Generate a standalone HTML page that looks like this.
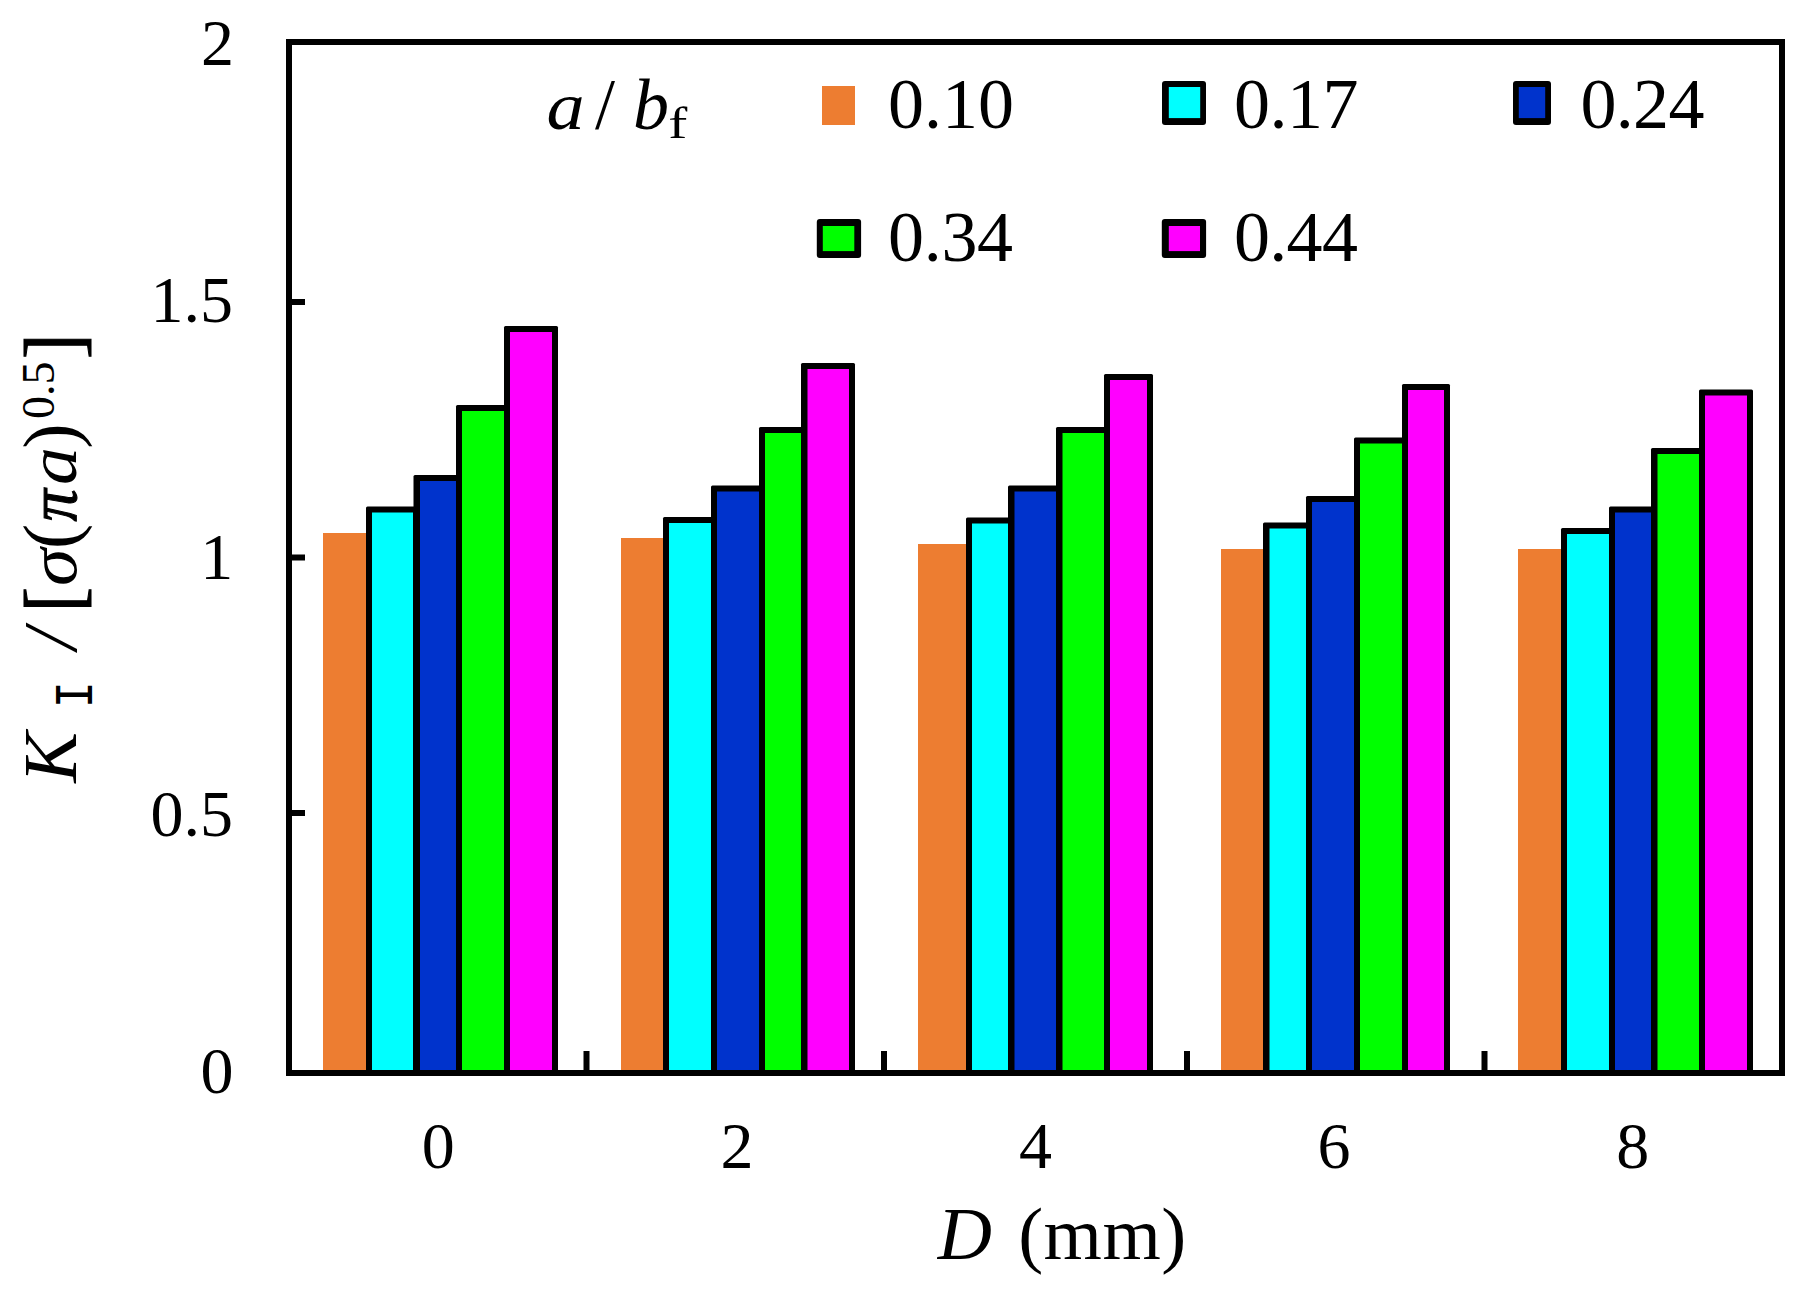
<!DOCTYPE html>
<html lang="en"><head><meta charset="utf-8"><title>K_I / [σ(πa)^0.5] versus D (mm)</title>
<style>
html,body{margin:0;padding:0;background:#fff;}
body{width:1811px;height:1302px;overflow:hidden;}
svg{display:block;}
svg text{font-family:"Liberation Serif","Times New Roman",Times,serif;fill:#000;}
svg text.rn{font-family:"DejaVu Sans Mono","Liberation Mono",monospace;}
</style></head><body>
<svg width="1811" height="1302" viewBox="0 0 1811 1302">
<rect width="1811" height="1302" fill="#fff"/>
<g id="bars" shape-rendering="auto">
<rect x="323" y="533" width="44" height="539" fill="#ED7D31"/>
<rect x="366" y="506.5" width="54" height="565.5" rx="1.5" ry="1.5" fill="#000"/>
<rect x="372" y="512.5" width="41" height="559.5" fill="#00FFFF"/>
<rect x="413.5" y="475" width="48.5" height="597" rx="1.5" ry="1.5" fill="#000"/>
<rect x="420" y="481" width="36" height="591" fill="#0033CC"/>
<rect x="456" y="405" width="54" height="667" rx="1.5" ry="1.5" fill="#000"/>
<rect x="462" y="411" width="42" height="661" fill="#00FF00"/>
<rect x="504" y="326" width="54" height="746" rx="1.5" ry="1.5" fill="#000"/>
<rect x="510" y="332" width="42" height="740" fill="#FF00FF"/>
<rect x="621" y="538" width="43" height="534" fill="#ED7D31"/>
<rect x="663" y="517" width="54" height="555" rx="1.5" ry="1.5" fill="#000"/>
<rect x="669" y="523" width="42" height="549" fill="#00FFFF"/>
<rect x="711" y="485.5" width="54" height="586.5" rx="1.5" ry="1.5" fill="#000"/>
<rect x="717" y="491.5" width="42" height="580.5" fill="#0033CC"/>
<rect x="759" y="427" width="48.5" height="645" rx="1.5" ry="1.5" fill="#000"/>
<rect x="765" y="433" width="36" height="639" fill="#00FF00"/>
<rect x="801" y="363" width="54" height="709" rx="1.5" ry="1.5" fill="#000"/>
<rect x="807.5" y="369" width="41.5" height="703" fill="#FF00FF"/>
<rect x="918" y="544" width="49" height="528" fill="#ED7D31"/>
<rect x="966" y="517.5" width="48.5" height="554.5" rx="1.5" ry="1.5" fill="#000"/>
<rect x="972" y="523.5" width="36" height="548.5" fill="#00FFFF"/>
<rect x="1008" y="485.5" width="54.5" height="586.5" rx="1.5" ry="1.5" fill="#000"/>
<rect x="1014.5" y="491.5" width="41.5" height="580.5" fill="#0033CC"/>
<rect x="1056" y="427" width="54" height="645" rx="1.5" ry="1.5" fill="#000"/>
<rect x="1062.5" y="433" width="41.5" height="639" fill="#00FF00"/>
<rect x="1104" y="374" width="49" height="698" rx="1.5" ry="1.5" fill="#000"/>
<rect x="1110" y="380" width="37" height="692" fill="#FF00FF"/>
<rect x="1221" y="549" width="43" height="523" fill="#ED7D31"/>
<rect x="1263" y="522.5" width="49" height="549.5" rx="1.5" ry="1.5" fill="#000"/>
<rect x="1269.5" y="528.5" width="36.5" height="543.5" fill="#00FFFF"/>
<rect x="1306" y="496" width="54" height="576" rx="1.5" ry="1.5" fill="#000"/>
<rect x="1312" y="502" width="42" height="570" fill="#0033CC"/>
<rect x="1354" y="437.5" width="54" height="634.5" rx="1.5" ry="1.5" fill="#000"/>
<rect x="1360" y="443.5" width="42" height="628.5" fill="#00FF00"/>
<rect x="1402" y="384" width="48" height="688" rx="1.5" ry="1.5" fill="#000"/>
<rect x="1408" y="390" width="36" height="682" fill="#FF00FF"/>
<rect x="1518" y="549" width="44" height="523" fill="#ED7D31"/>
<rect x="1561" y="528" width="54" height="544" rx="1.5" ry="1.5" fill="#000"/>
<rect x="1567" y="534" width="42" height="538" fill="#00FFFF"/>
<rect x="1609" y="506.5" width="48.5" height="565.5" rx="1.5" ry="1.5" fill="#000"/>
<rect x="1615" y="512.5" width="36" height="559.5" fill="#0033CC"/>
<rect x="1651" y="448" width="54" height="624" rx="1.5" ry="1.5" fill="#000"/>
<rect x="1657.5" y="454" width="41.5" height="618" fill="#00FF00"/>
<rect x="1699" y="389.5" width="54" height="682.5" rx="1.5" ry="1.5" fill="#000"/>
<rect x="1705" y="395.5" width="42" height="676.5" fill="#FF00FF"/>
</g>
<rect x="289" y="42" width="1493" height="1031" fill="none" stroke="#000" stroke-width="6"/>
<rect x="291" y="299" width="14" height="6" fill="#000"/>
<rect x="291" y="554.5" width="14" height="6" fill="#000"/>
<rect x="291" y="810" width="14" height="6" fill="#000"/>
<rect x="583.5" y="1051" width="6" height="20" fill="#000"/>
<rect x="881" y="1051" width="6" height="20" fill="#000"/>
<rect x="1184" y="1051" width="6" height="20" fill="#000"/>
<rect x="1481.5" y="1051" width="6" height="20" fill="#000"/>
<g id="yticks">
<text x="234" y="65" font-size="66" text-anchor="end">2</text>
<text x="233" y="322" font-size="66" text-anchor="end">1.5</text>
<text x="233.3" y="579" font-size="66" text-anchor="end">1</text>
<text x="233" y="836" font-size="66" text-anchor="end">0.5</text>
<text x="233.5" y="1093" font-size="66" text-anchor="end">0</text>
</g>
<g id="xticks">
<text x="438.3" y="1167.7" font-size="66" text-anchor="middle">0</text>
<text x="736.9" y="1167.7" font-size="66" text-anchor="middle">2</text>
<text x="1035.5" y="1167.7" font-size="66" text-anchor="middle">4</text>
<text x="1334.1" y="1167.7" font-size="66" text-anchor="middle">6</text>
<text x="1632.7" y="1167.7" font-size="66" text-anchor="middle">8</text>
</g>
<g id="xtitle">
<text x="937.8" y="1259" font-size="75" text-anchor="start" font-style="italic">D</text>
<text x="1018.2" y="1259" font-size="75" text-anchor="start" letter-spacing="0.45">(mm)</text>
</g>
<g id="legend">
<text transform="translate(546.4 128.8) scale(1.06 0.94)" font-size="72" font-style="italic">a</text>
<text x="595" y="127.8" font-size="72" text-anchor="start">/</text>
<text x="633" y="128.8" font-size="72" text-anchor="start" font-style="italic">b</text>
<text transform="translate(668.3 138) scale(1.3 1)" font-size="44">f</text>
<rect x="822" y="86" width="33" height="39" fill="#ED7D31"/>
<rect x="1162" y="81" width="44" height="44" rx="3" ry="3" fill="#000"/>
<rect x="1168.8" y="87" width="31.4" height="31.1" fill="#00FFFF"/>
<rect x="1513" y="81" width="38" height="44" rx="3" ry="3" fill="#000"/>
<rect x="1518.8" y="87" width="26.4" height="31.1" fill="#0033CC"/>
<rect x="816.8" y="219" width="44.3" height="38.9" rx="3" ry="3" fill="#000"/>
<rect x="822.8" y="226" width="31.5" height="25.1" fill="#00FF00"/>
<rect x="1161.8" y="219" width="44.3" height="38.9" rx="3" ry="3" fill="#000"/>
<rect x="1168.8" y="226" width="31.2" height="25.1" fill="#FF00FF"/>
<text x="888" y="127.5" font-size="72" text-anchor="start">0.10</text>
<text x="1234" y="127.5" font-size="72" text-anchor="start" letter-spacing="-0.5">0.17</text>
<text x="1580.5" y="127.5" font-size="72" text-anchor="start" letter-spacing="-0.7">0.24</text>
<text x="888" y="261.3" font-size="72" text-anchor="start" letter-spacing="-0.3">0.34</text>
<text x="1234" y="261.3" font-size="72" text-anchor="start" letter-spacing="-0.7">0.44</text>
</g>
<g id="ytitle">
<text transform="translate(76 782.7) rotate(-90)" font-size="76" font-style="italic">K</text>
<text transform="translate(92 708.1) rotate(-90) scale(0.9 1)" font-size="49" class="rn">I</text>
<text transform="translate(76 649.4) rotate(-90)" font-size="76" font-style="italic">/</text>
<text transform="translate(80.3 612.3) rotate(-90) scale(1 1.051)" font-size="76" stroke="#000" stroke-width="1">[</text>
<text transform="translate(76 586) rotate(-90) scale(1 0.93)" font-size="76" font-style="italic">σ</text>
<text transform="translate(76 549) rotate(-90)" font-size="76">(</text>
<text transform="translate(76 521.5) rotate(-90) scale(0.85 0.93)" font-size="76" font-style="italic" stroke="#000" stroke-width="1.2">π</text>
<text transform="translate(76 485) rotate(-90) scale(1 0.93)" font-size="76" font-style="italic">a</text>
<text transform="translate(76 448.7) rotate(-90)" font-size="76">)</text>
<text transform="translate(54 419) rotate(-90)" font-size="46">0.5</text>
<text transform="translate(80.3 358.9) rotate(-90) scale(1 1.051)" font-size="76" stroke="#000" stroke-width="1">]</text>
</g>
</svg>
</body></html>
